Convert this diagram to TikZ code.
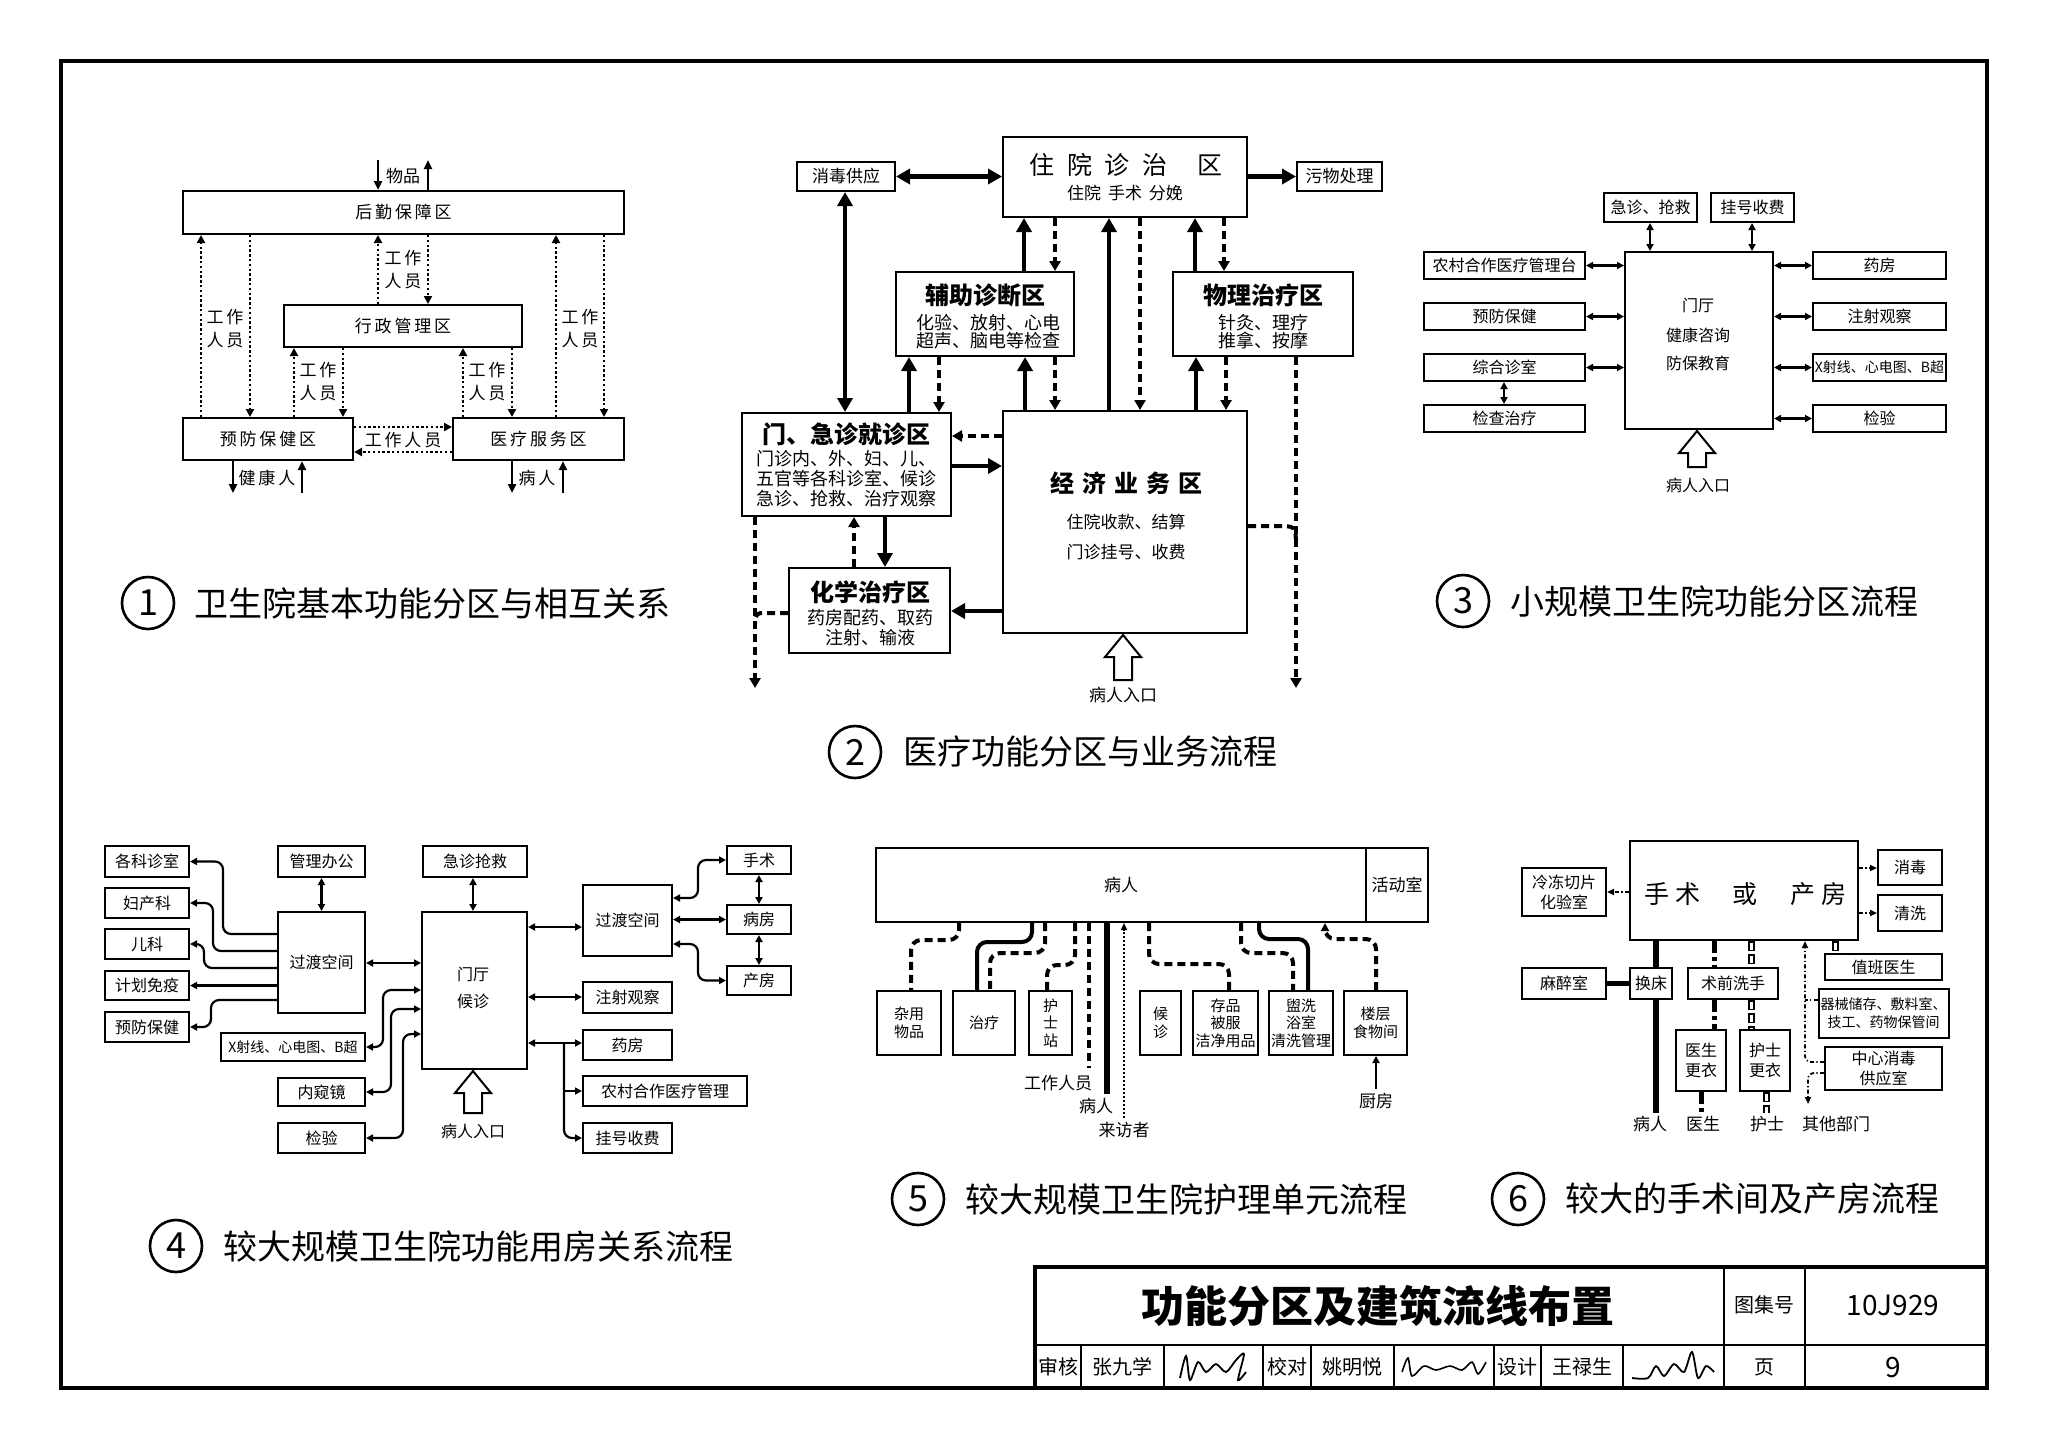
\documentclass[tikz,border=0pt]{standalone}
\usepackage{fontspec}
\setmainfont{Noto Sans CJK SC}
\usetikzlibrary{arrows.meta}
\newcommand{\BX}[7][]{\node[box,#1,minimum width={(#5-#3)*0.5pt},minimum height={(#6-#4)*0.5pt}] (#2) at ({(#3+#5)/2},{(#4+#6)/2}) {#7};}
\newcommand{\hup}[3]{\draw[line width=1pt,fill=white] (#1,#2) -- ({#1+18},{#2+22}) -- ({#1+9},{#2+22}) -- ({#1+9},#3) -- ({#1-9},#3) -- ({#1-9},{#2+22}) -- ({#1-18},{#2+22}) -- cycle;}
\newcommand{\dhl}[2]{\draw[line width=3.5pt,dash pattern=on 5pt off 1.5pt] #1 -- #2; \draw[white,line width=1.5pt,dash pattern=on 3.5pt off 3pt,dash phase=5.75pt] #1 -- #2;}
\begin{document}
\begin{tikzpicture}[x=0.5pt,y=-0.5pt,
 box/.style={draw,line width=1pt,fill=white,inner sep=0pt,align=center},
 f1/.style={font=\fontsize{8.5pt}{11.5pt}\selectfont,align=center,inner sep=1pt},
 f2/.style={font=\fontsize{8.5pt}{10pt}\selectfont,align=center,inner sep=1pt},
 fs2/.style={font=\fontsize{9pt}{9pt}\selectfont,align=center,inner sep=1pt},
 fm/.style={font=\fontsize{9pt}{10pt}\selectfont,align=center,inner sep=1pt},
 ft/.style={font=\fontsize{12.5pt}{14pt}\selectfont,inner sep=1pt},
 ftb/.style={font=\fontsize{12pt}{14pt}\selectfont\bfseries,inner sep=1pt},
 f3/.style={font=\fontsize{8pt}{10pt}\selectfont,align=center,inner sep=1pt},
 f3s/.style={font=\fontsize{7pt}{9pt}\selectfont,align=center,inner sep=1pt},
 f5/.style={font=\fontsize{7.5pt}{8.8pt}\selectfont,align=center,inner sep=1pt},
 captx/.style={font=\fontsize{17pt}{20pt}\selectfont,anchor=west,inner sep=0pt},
 cnum/.style={circle,draw,line width=1.3pt,minimum size=26pt,inner sep=0pt,font=\fontsize{18pt}{18pt}\selectfont},
 a1/.style={line width=1.3pt,-{Triangle[length=4.5pt,width=4pt]}},
 p1/.style={line width=1.3pt,dash pattern=on 1.2pt off 1.2pt,-{Triangle[length=4pt,width=4pt]}},
 tA/.style={line width=2.3pt,-{Triangle[length=7pt,width=7.5pt]}},
 tAA/.style={line width=2.3pt,{Triangle[length=7pt,width=7.5pt]}-{Triangle[length=7pt,width=7.5pt]}},
 dA/.style={line width=2pt,dash pattern=on 4pt off 2.5pt,-{Triangle[length=5pt,width=5.5pt]}},
 dN/.style={line width=2pt,dash pattern=on 4pt off 2.5pt},
 bb/.style={line width=1.1pt,{Triangle[length=3.5pt,width=3.5pt]}-{Triangle[length=3.5pt,width=3.5pt]}},
 ba/.style={line width=1.1pt,-{Triangle[length=3.5pt,width=3.5pt]}},
 t5/.style={line width=2pt,rounded corners=5pt},
 d5/.style={line width=2pt,dash pattern=on 4pt off 2.5pt,rounded corners=5pt},
 dt6/.style={line width=0.9pt,dash pattern=on 2pt off 1.2pt on 0.6pt off 1.2pt},
 dd6/.style={line width=2.5pt,dash pattern=on 6pt off 2pt on 2pt off 2pt},
 t6/.style={line width=2.6pt}
]
\useasboundingbox (0,0) rectangle (2048,1453);
\fill[white] (0,0) rectangle (2048,1453);
\draw[line width=2.2pt] (61,61) rectangle (1987,1388);

% ================= Diagram 1
\BX[f1]{hq}{183}{191}{624}{234}{后\,勤\,保\,障\,区}
\BX[f1]{xz}{284}{305}{522}{347}{行\,政\,管\,理\,区}
\BX[f1]{yf}{183}{418}{353}{460}{预\,防\,保\,健\,区}
\BX[f1]{yl}{453}{418}{624}{460}{医\,疗\,服\,务\,区}
\coordinate (wp1) at (378,160); \coordinate (wp2) at (428,160);
\draw[a1] (wp1) -- (hq.north -| wp1);
\draw[a1] (hq.north -| wp2) -- (wp2);
\node[f1] (wpl) at (403,176) {物品};
\draw[p1] (yf.north -| 201,0) -- (hq.south -| 201,0);
\draw[p1] (hq.south -| 250,0) -- (yf.north -| 250,0);
\node[f1] (l1a) at (225,329) {工\,作\\人\,员};
\draw[p1] (xz.north -| 378,0) -- (hq.south -| 378,0);
\draw[p1] (hq.south -| 428,0) -- (xz.north -| 428,0);
\node[f1] (l1b) at (403,270) {工\,作\\人\,员};
\draw[p1] (yf.north -| 294,0) -- (xz.south -| 294,0);
\draw[p1] (xz.south -| 343,0) -- (yf.north -| 343,0);
\node[f1] (l1c) at (318,382) {工\,作\\人\,员};
\draw[p1] (yl.north -| 463,0) -- (xz.south -| 463,0);
\draw[p1] (xz.south -| 512,0) -- (yl.north -| 512,0);
\node[f1] (l1d) at (487,382) {工\,作\\人\,员};
\draw[p1] (yl.north -| 556,0) -- (hq.south -| 556,0);
\draw[p1] (hq.south -| 604,0) -- (yl.north -| 604,0);
\node[f1] (l1e) at (580,329) {工\,作\\人\,员};
\draw[p1] (yf.east |- 0,427) -- (yl.west |- 0,427);
\draw[p1] (yl.west |- 0,452) -- (yf.east |- 0,452);
\node[f1] (l1f) at (403,440) {工\,作\,人\,员};
\coordinate (jk1) at (233,493); \coordinate (jk2) at (302,493);
\draw[a1] (yf.south -| jk1) -- (jk1);
\draw[a1] (jk2) -- (yf.south -| jk2);
\node[f1] (jkl) at (267,478) {健\,康\,人};
\coordinate (br1) at (512,493); \coordinate (br2) at (563,493);
\draw[a1] (yl.south -| br1) -- (br1);
\draw[a1] (br2) -- (yl.south -| br2);
\node[f1] (brl) at (537,478) {病\,人};
\node[cnum] (c1) at (148,603) {1};
\node[captx] (t1) at (194,603) {卫生院基本功能分区与相互关系};

% ================= Diagram 2
\BX[f2]{xd}{797}{162}{895}{191}{消毒供应}
\BX{zy}{1003}{137}{1247}{217}{}
\node[ft] (zyt) at (1126,165) {住\hspace{0.5em}院\hspace{0.5em}诊\hspace{0.5em}治\hspace{1.2em}区};
\node[f2] (zys) at (1125,193) {住院\hspace{0.4em}手术\hspace{0.4em}分娩};
\BX[f2]{wu}{1297}{162}{1382}{191}{污物处理}
\BX{fz}{896}{272}{1074}{356}{}
\node[ftb] (fzt) at (985,295) {辅助诊断区};
\node[fs2] (fzs) at (988,332) {化验、放射、心电\\超声、脑电等检查};
\BX{wl}{1173}{272}{1353}{356}{}
\node[ftb] (wlt) at (1263,295) {物理治疗区};
\node[fs2] (wls) at (1263,332) {针灸、理疗\\推拿、按摩};
\BX{mj}{742}{413}{951}{516}{}
\node[ftb] (mjt) at (846,434) {门、急诊就诊区};
\node[fm] (mjs) at (846,479) {门诊内、外、妇、儿、\\五官等各科诊室、候诊\\急诊、抢救、治疗观察};
\BX{jj}{1003}{411}{1247}{633}{}
\node[ftb] (jjt) at (1126,483) {经\hspace{4pt}济\hspace{4pt}业\hspace{4pt}务\hspace{4pt}区};
\node[f2] (jjs1) at (1126,522) {住院收款、结算};
\node[f2] (jjs2) at (1126,552) {门诊挂号、收费};
\BX{hx}{789}{568}{950}{653}{}
\node[ftb] (hxt) at (870,592) {化学治疗区};
\node[fm] (hxs) at (870,628) {药房配药、取药\\注射、输液};
\draw[tAA] (xd.east) -- (xd.east -| zy.west);
\draw[tA] (zy.east |- wu.west) -- (wu.west);
\draw[tAA] (xd.south -| 845,0) -- (mj.north -| 845,0);
\draw[tA] (fz.north -| 1024,0) -- (zy.south -| 1024,0);
\draw[dA] (zy.south -| 1055,0) -- (fz.north -| 1055,0);
\draw[tA] (mj.north -| 909,0) -- (fz.south -| 909,0);
\draw[dA] (fz.south -| 939,0) -- (mj.north -| 939,0);
\draw[tA] (jj.north -| 1025,0) -- (fz.south -| 1025,0);
\draw[dA] (fz.south -| 1055,0) -- (jj.north -| 1055,0);
\draw[tA] (jj.north -| 1109,0) -- (zy.south -| 1109,0);
\draw[dA] (zy.south -| 1140,0) -- (jj.north -| 1140,0);
\draw[tA] (wl.north -| 1195,0) -- (zy.south -| 1195,0);
\draw[dA] (zy.south -| 1224,0) -- (wl.north -| 1224,0);
\draw[tA] (jj.north -| 1196,0) -- (wl.south -| 1196,0);
\draw[dA] (wl.south -| 1226,0) -- (jj.north -| 1226,0);
\draw[dA] (jj.west |- 0,436) -- (mj.east |- 0,436);
\draw[tA] (mj.east |- 0,466) -- (jj.west |- 0,466);
\draw[dA] (hx.north -| 854,0) -- (mj.south -| 854,0);
\draw[tA] (mj.south -| 885,0) -- (hx.north -| 885,0);
\draw[tA] (jj.west |- 0,611) -- (hx.east |- 0,611);
\coordinate (lo) at (755,688);
\draw[dA] (mj.south -| lo) -- (lo);
\draw[dN] (hx.west |- 0,613) -- (766,613) .. controls (756,613) .. (755,624);
\coordinate (ro) at (1296,688);
\draw[dA] (wl.south -| ro) -- (ro);
\draw[dN] (jj.east |- 0,526) -- (1284,526) .. controls (1295,527) .. (1296,540);
\hup{1123}{635}{680}
\node[f2] (rk2) at (1123,695) {病人入口};
\node[cnum] (c2) at (855,752) {2};
\node[captx] (t2) at (903,752) {医疗功能分区与业务流程};

% ================= Diagram 3
\BX[f3]{jz3}{1604}{193}{1697}{222}{急诊、抢救}
\BX[f3]{gh3}{1711}{193}{1794}{222}{挂号收费}
\BX{mt3}{1625}{252}{1773}{429}{}
\node[f3] (mt3a) at (1698,305) {门厅};
\node[f3] (mt3b) at (1698,335) {健康咨询};
\node[f3] (mt3c) at (1698,363) {防保教育};
\BX[f3]{nc3}{1424}{252}{1585}{279}{农村合作医疗管理台}
\BX[f3]{yb3}{1424}{303}{1585}{330}{预防保健}
\BX[f3]{zh3}{1424}{354}{1585}{381}{综合诊室}
\BX[f3]{jc3}{1424}{405}{1585}{432}{检查治疗}
\BX[f3]{yf3}{1813}{252}{1946}{279}{药房}
\BX[f3]{zs3}{1813}{303}{1946}{330}{注射观察}
\BX[f3s]{xs3}{1813}{354}{1946}{381}{X射线、心电图、B超}
\BX[f3]{jy3}{1813}{405}{1946}{432}{检验}
\draw[bb] (nc3.east) -- (nc3.east -| mt3.west);
\draw[bb] (yb3.east) -- (yb3.east -| mt3.west);
\draw[bb,line width=1.5pt] (zh3.east) -- (zh3.east -| mt3.west);
\draw[bb] (yf3.west -| mt3.east) -- (yf3.west);
\draw[bb] (zs3.west -| mt3.east) -- (zs3.west);
\draw[bb,line width=1.5pt] (xs3.west -| mt3.east) -- (xs3.west);
\draw[bb] (jy3.west -| mt3.east) -- (jy3.west);
\draw[bb] (zh3.south -| 1504,0) -- (jc3.north -| 1504,0);
\draw[bb] (jz3.south -| 1650,0) -- (mt3.north -| 1650,0);
\draw[bb] (gh3.south -| 1752,0) -- (mt3.north -| 1752,0);
\hup{1697}{431}{467}
\node[f3] (rk3) at (1698,485) {病人入口};
\node[cnum] (c3) at (1463,601) {3};
\node[captx] (t3) at (1510,601) {小规模卫生院功能分区流程};

% ================= Diagram 4
\BX[f3]{gk4}{105}{846}{189}{877}{各科诊室}
\BX[f3]{fc4}{105}{888}{189}{918}{妇产科}
\BX[f3]{ek4}{105}{929}{189}{959}{儿科}
\BX[f3]{jh4}{105}{971}{189}{1000}{计划免疫}
\BX[f3]{yb4}{105}{1012}{189}{1042}{预防保健}
\BX[f3]{gl4}{278}{846}{365}{877}{管理办公}
\BX[f3]{gd4}{278}{912}{365}{1013}{过渡空间}
\BX[f3s]{xs4}{221}{1033}{365}{1061}{X射线、心电图、B超}
\BX[f3]{nk4}{278}{1078}{365}{1106}{内窥镜}
\BX[f3]{jy4}{278}{1123}{365}{1153}{检验}
\BX[f3]{jq4}{423}{846}{527}{877}{急诊抢救}
\BX{mt4}{422}{912}{527}{1069}{}
\node[f3] (mt4a) at (473,974) {门厅};
\node[f3] (mt4b) at (473,1001) {候诊};
\BX[f3]{ge4}{583}{885}{672}{956}{过渡空间}
\BX[f3]{zs4}{583}{982}{672}{1013}{注射观察}
\BX[f3]{yf4}{583}{1030}{672}{1060}{药房}
\BX[f3]{nc4}{583}{1076}{747}{1106}{农村合作医疗管理}
\BX[f3]{gh4}{583}{1123}{672}{1153}{挂号收费}
\BX[f3]{ss4}{727}{846}{791}{874}{手术}
\BX[f3]{bf4}{727}{905}{791}{934}{病房}
\BX[f3]{cf4}{727}{966}{791}{995}{产房}
\draw[bb] (gl4.south) -- (gd4.north);
\draw[bb] (jq4.south -| 473,0) -- (mt4.north -| 473,0);
\draw[bb] (gd4.east |- 0,963) -- (mt4.west |- 0,963);
\draw[ba,rounded corners=4pt] (gd4.west |- 0,934) -- (223,934) -- (223,861.5) -- (gk4.east);
\draw[ba,rounded corners=4pt] (gd4.west |- 0,951) -- (213,951) -- (213,903) -- (fc4.east);
\draw[ba,rounded corners=4pt] (gd4.west |- 0,968) -- (204,968) -- (204,944) -- (ek4.east);
\draw[ba,line width=1.6pt] (gd4.west |- 0,985.5) -- (jh4.east);
\draw[ba,rounded corners=4pt] (gd4.west |- 0,1000) -- (211,1000) -- (211,1027) -- (yb4.east);
\draw[bb,rounded corners=4pt] (xs4.east) -- (383,1047) -- (383,990) -- (mt4.west |- 0,990);
\draw[bb,rounded corners=4pt] (nk4.east) -- (391,1092) -- (391,1009) -- (mt4.west |- 0,1009);
\draw[bb,rounded corners=4pt] (jy4.east) -- (403,1138) -- (403,1034) -- (mt4.west |- 0,1034);
\draw[bb] (mt4.east |- 0,927) -- (ge4.west |- 0,927);
\draw[bb] (mt4.east |- 0,997) -- (zs4.west |- 0,997);
\draw[bb] (mt4.east |- 0,1043) -- (yf4.west |- 0,1043);
\coordinate (bk4) at (564,1043);
\draw[ba,rounded corners=4pt] (bk4) -- (564,1138) -- (gh4.west |- 0,1138);
\draw[ba] (564,1091) -- (nc4.west |- 0,1091);
\draw[bb,rounded corners=4pt] (ge4.east |- 0,898) -- (698,898) -- (698,860) -- (ss4.west);
\draw[bb] (ge4.east |- 0,919.5) -- (bf4.west);
\draw[bb,rounded corners=4pt] (ge4.east |- 0,944) -- (698,944) -- (698,980.5) -- (cf4.west);
\draw[bb] (ss4.south) -- (bf4.north);
\draw[bb] (bf4.south) -- (cf4.north);
\hup{473}{1071}{1113}
\node[f3] (rk4) at (473,1131) {病人入口};
\node[cnum] (c4) at (176,1246) {4};
\node[captx] (t4) at (223,1246) {较大规模卫生院功能用房关系流程};

% ================= Diagram 5
\BX[f2]{br5}{876}{848}{1366}{922}{病人}
\BX[f2]{hd5}{1366}{848}{1428}{922}{活动室}
\BX[f5]{b1}{877}{991}{941}{1055}{杂用\\物品}
\BX[f5]{b2}{953}{991}{1015}{1055}{治疗}
\BX[f5]{b3}{1029}{991}{1072}{1055}{护\\士\\站}
\BX[f5]{b4}{1140}{991}{1181}{1055}{候\\诊}
\BX[f5]{b5}{1193}{991}{1258}{1055}{存品\\被服\\洁净用品}
\BX[f5]{b6}{1270}{991}{1332}{1055}{盥洗\\浴室\\清洗管理}
\BX[f5]{b7}{1344}{991}{1407}{1055}{楼层\\食物间}
\draw[d5] (br5.south -| 959,0) -- (959,940) -- (911,940) -- (b1.north -| 911,0);
\draw[t5] (br5.south -| 1032,0) -- (1032,942) -- (977,942) -- (b2.north -| 977,0);
\draw[d5] (br5.south -| 1045,0) -- (1045,953) -- (990,953) -- (b2.north -| 990,0);
\draw[d5] (br5.south -| 1075,0) -- (1075,965) -- (1047,965) -- (b3.north -| 1047,0);
\coordinate (gz5) at (1089,1068);
\draw[d5] (br5.south -| gz5) -- (gz5);
\node[f2] (gzl) at (1058,1083) {工作人员};
\coordinate (pt5) at (1107,1094);
\draw[line width=2.6pt] (br5.south -| pt5) -- (pt5);
\node[f2] (ptl) at (1096,1106) {病人};
\coordinate (lf5) at (1124,1118);
\draw[line width=0.8pt,dash pattern=on 1pt off 1pt,-{Triangle[length=3.5pt,width=3pt]}] (lf5) -- (br5.south -| lf5);
\node[f2] (lfl) at (1124,1130) {来访者};
\draw[d5] (br5.south -| 1149,0) -- (1149,964) -- (1229,964) -- (b5.north -| 1229,0);
\draw[d5] (br5.south -| 1241,0) -- (1241,953) -- (1293,953) -- (b6.north -| 1293,0);
\draw[t5] (br5.south -| 1259,0) -- (1259,939) -- (1308,939) -- (b6.north -| 1308,0);
\draw[d5,-{Triangle[length=4pt,width=4pt]}] (b7.north -| 1376,0) -- (1376,939) -- (1325,939) -- (br5.south -| 1325,0);
\coordinate (cf5) at (1376,1089);
\draw[line width=1pt,-{Triangle[length=3.5pt,width=3.5pt]}] (cf5) -- (b7.south -| cf5);
\node[f2] (cfl) at (1376,1101) {厨房};
\node[cnum] (c5) at (918,1199) {5};
\node[captx] (t5) at (965,1199) {较大规模卫生院护理单元流程};

% ================= Diagram 6
\BX[fm]{ss6}{1630}{841}{1858}{940}{}
\node[ft] (ss6t) at (1745,894) {手\hspace{3pt}术\hspace{1.3em}或\hspace{1.3em}产\hspace{3pt}房};
\BX[f3]{ld6}{1522}{868}{1606}{916}{冷冻切片\\化验室}
\BX[f3]{xd6}{1878}{850}{1942}{885}{消毒}
\BX[f3]{qx6}{1878}{895}{1942}{931}{清洗}
\BX[f3]{mz6}{1522}{968}{1606}{999}{麻醉室}
\BX[f3]{hc6}{1630}{968}{1672}{999}{换床}
\BX[f3]{sq6}{1688}{968}{1778}{999}{术前洗手}
\BX[f3]{ys6}{1676}{1030}{1726}{1091}{医生\\更衣}
\BX[f3]{hs6}{1740}{1030}{1790}{1091}{护士\\更衣}
\BX[f3]{zb6}{1825}{954}{1942}{980}{值班医生}
\BX[f3s]{qj6}{1825}{989}{1942}{1038}{器械储存、敷料室、\\技工、药物保管间}
\BX[f3]{zx6}{1825}{1047}{1942}{1090}{中心消毒\\供应室}
\draw[dt6,-{Triangle[length=3.5pt,width=3pt]}] (ss6.west |- 0,892) -- (ld6.east |- 0,892);
\draw[dt6,-{Triangle[length=3.5pt,width=3pt]}] (ss6.east |- 0,868) -- (xd6.west |- 0,868);
\draw[dt6,-{Triangle[length=3.5pt,width=3pt]}] (ss6.east |- 0,913) -- (qx6.west |- 0,913);
\draw[t6] (ss6.south -| 1656,0) -- (hc6.north -| 1656,0);
\coordinate (pr6) at (1656,1113);
\draw[t6] (hc6.south -| pr6) -- (pr6);
\draw[t6] (mz6.east) -- (hc6.west);
\draw[dd6] (ss6.south -| 1714,0) -- (sq6.north -| 1714,0);
\draw[dd6] (sq6.south -| 1714,0) -- (ys6.north -| 1714,0);
\coordinate (yd6) at (1701,1113);
\draw[dd6] (ys6.south -| yd6) -- (yd6);
\dhl{(ss6.south -| 1751,0)}{(sq6.north -| 1751,0)}
\dhl{(sq6.south -| 1751,0)}{(hs6.north -| 1751,0)}
\coordinate (hd6) at (1766,1113);
\dhl{(hs6.south -| hd6)}{(hd6)}
\dhl{(ss6.south -| 1835,0)}{(zb6.north -| 1835,0)}
\draw[dt6,rounded corners=3pt,-{Triangle[length=3.5pt,width=3pt]}] (zx6.west |- 0,1062) -- (1805,1062) -- (ss6.south -| 1805,0);
\draw[dt6] (qj6.west |- 0,1000) -- (1805,1000);
\coordinate (qt6) at (1808,1104);
\draw[dt6,rounded corners=3pt,-{Triangle[length=3.5pt,width=3pt]}] (zx6.west |- 0,1073) -- (1808,1073) -- (qt6);
\node[f2] (l6a) at (1650,1124) {病人};
\node[f2] (l6b) at (1703,1124) {医生};
\node[f2] (l6c) at (1767,1124) {护士};
\node[f2] (l6d) at (1836,1124) {其他部门};
\node[cnum] (c6) at (1518,1199) {6};
\node[captx] (t6) at (1565,1199) {较大的手术间及产房流程};

% ================= Title block
\draw[line width=1.6pt] (1035,1388) -- (1035,1267) -- (1987,1267);
\draw[line width=1pt] (1035,1345) -- (1987,1345);
\draw[line width=1pt] (1724,1267) -- (1724,1388);
\draw[line width=1pt] (1805,1267) -- (1805,1388);
\foreach \xx in {1081,1164,1263,1311,1394,1494,1541,1623} {\draw[line width=1pt] (\xx,1345) -- (\xx,1388);}
\node[font=\fontsize{21.5pt}{24pt}\selectfont\bfseries] (ttl) at (1378,1306) {功能分区及建筑流线布置};
\node[font=\fontsize{10pt}{12pt}\selectfont] (tjh) at (1764,1305) {图集号};
\node[font=\fontsize{14pt}{16pt}\selectfont] (tno) at (1893,1305) {10J929};
\node[font=\fontsize{10pt}{12pt}\selectfont] (tye) at (1764,1367) {页};
\node[font=\fontsize{14pt}{16pt}\selectfont] (tpg) at (1893,1367) {9};
\node[font=\fontsize{10pt}{12pt}\selectfont] (s1) at (1058,1367) {审核};
\node[font=\fontsize{10pt}{12pt}\selectfont] (s2) at (1122,1367) {张九学};
\node[font=\fontsize{10pt}{12pt}\selectfont] (s3) at (1287,1367) {校对};
\node[font=\fontsize{10pt}{12pt}\selectfont] (s4) at (1352,1367) {姚明悦};
\node[font=\fontsize{10pt}{12pt}\selectfont] (s5) at (1517,1367) {设计};
\node[font=\fontsize{10pt}{12pt}\selectfont] (s6) at (1582,1367) {王禄生};
\draw[line width=0.9pt] plot[smooth] coordinates {(1180,1378)(1186,1356)(1190,1380)(1198,1362)(1206,1372)(1216,1364)(1226,1372)(1236,1360)(1244,1354)(1238,1380)(1246,1372)};
\draw[line width=0.8pt] plot[smooth] coordinates {(1402,1372)(1408,1358)(1412,1376)(1424,1366)(1436,1370)(1450,1366)(1462,1370)(1472,1362)(1478,1374)(1486,1362)};
\draw[line width=0.9pt] plot[smooth] coordinates {(1632,1378)(1648,1378)(1656,1366)(1664,1376)(1674,1364)(1684,1372)(1692,1352)(1698,1378)(1706,1366)(1714,1372)};
\end{tikzpicture}
\end{document}
